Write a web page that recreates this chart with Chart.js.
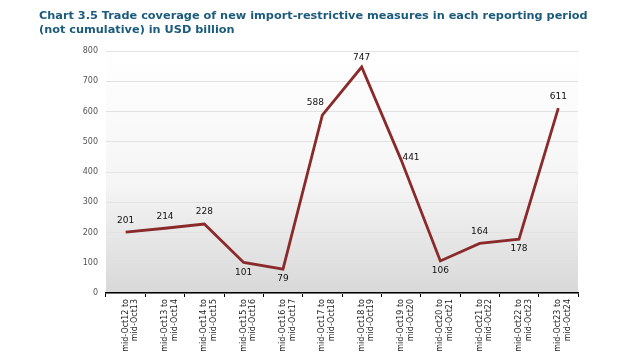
<!DOCTYPE html>
<html>
<head>
<meta charset="utf-8">
<script src="https://cdn.jsdelivr.net/npm/chart.js@4/dist/chart.umd.min.js"></script>
<style>
  html, body { margin: 0; padding: 0; background: #fff; }
  #wrap { width: 640px; height: 360px; position: relative; }
  #title {
    position: absolute; left: 39px; top: 9px;
    font: bold 11.3px/14px "DejaVu Sans", sans-serif;
    color: #1b5b7c; white-space: nowrap;
  }
  canvas { position: absolute; left: 0; top: 0; }
</style>
</head>
<body>
<div id="wrap">
  <canvas id="chart" width="640" height="360"></canvas>
  <div id="title"></div>
</div>
<script>
// Reporting periods (two-line labels)
const periods = [
  ["mid-Oct12 to", "mid-Oct13"],
  ["mid-Oct13 to", "mid-Oct14"],
  ["mid-Oct14 to", "mid-Oct15"],
  ["mid-Oct15 to", "mid-Oct16"],
  ["mid-Oct16 to", "mid-Oct17"],
  ["mid-Oct17 to", "mid-Oct18"],
  ["mid-Oct18 to", "mid-Oct19"],
  ["mid-Oct19 to", "mid-Oct20"],
  ["mid-Oct20 to", "mid-Oct21"],
  ["mid-Oct21 to", "mid-Oct22"],
  ["mid-Oct22 to", "mid-Oct23"],
  ["mid-Oct23 to", "mid-Oct24"]
];

// Trade coverage, USD billion
const coverage = [201, 214, 228, 101, 79, 588, 747, 441, 106, 164, 178, 611];

// Where each value label sits relative to its point
const labelSide = ["above", "above", "above", "below", "below", "aboveLeft",
                   "top", "right", "below", "above", "below", "above"];

const yTicks = { min: 0, max: 800, step: 100 };

const titleLines = [
  "Chart 3.5 Trade coverage of new import-restrictive measures in each reporting period",
  "(not cumulative) in USD billion"
];

// Title as plain text (Chart.js would squeeze it to the chart width)
const titleEl = document.getElementById("title");
titleLines.forEach((line, i) => {
  if (i > 0) titleEl.appendChild(document.createElement("br"));
  titleEl.appendChild(document.createTextNode(line));
});

// Plot background: white fading to light grey at the bottom
const plotBackground = {
  id: "plotBackground",
  beforeDraw(chart) {
    const { ctx, chartArea: a } = chart;
    const g = ctx.createLinearGradient(0, a.top, 0, a.bottom);
    g.addColorStop(0, "#ffffff");
    g.addColorStop(0.55, "#f5f5f5");
    g.addColorStop(1, "#d8d8d8");
    ctx.save();
    ctx.fillStyle = g;
    ctx.fillRect(a.left, a.top, a.right - a.left, a.bottom - a.top);
    ctx.restore();
  }
};

// Value labels next to each point
const valueLabels = {
  id: "valueLabels",
  afterDatasetsDraw(chart) {
    const { ctx } = chart;
    const meta = chart.getDatasetMeta(0);
    ctx.save();
    ctx.font = "9px 'DejaVu Sans'";
    ctx.fillStyle = "#111";
    ctx.textAlign = "center";
    ctx.textBaseline = "middle";
    meta.data.forEach((pt, i) => {
      const v = chart.data.datasets[0].data[i];
      let x = pt.x, y = pt.y;
      switch (labelSide[i]) {
        case "above": y -= 12; break;
        case "top": y -= 9; break;
        case "below": y += 10; break;
        case "aboveLeft": x -= 7; y -= 12; break;
        case "right": x += 10; y -= 2; break;
      }
      ctx.fillText(String(v), x, y);
    });
    ctx.restore();
  }
};

new Chart(document.getElementById("chart"), {
  type: "line",
  data: {
    labels: periods,
    datasets: [{
      data: coverage,
      borderColor: "#8b2a2a",
      borderWidth: 2.8,
      pointRadius: 0,
      tension: 0,
      fill: false
    }]
  },
  options: {
    responsive: false,
    animation: false,
    layout: { padding: { left: 39, right: 62, top: 51, bottom: 0 } },
    plugins: {
      legend: { display: false },
      tooltip: { enabled: false },
      title: { display: false }
    },
    scales: {
      x: {
        offset: true,
        grid: {
          display: true,
          offset: true,
          drawOnChartArea: false,
          drawTicks: true,
          tickLength: 4,
          color: "#000"
        },
        border: { display: true, color: "#000", width: 1.5 },
        ticks: {
          autoSkip: false,
          minRotation: 90,
          maxRotation: 90,
          color: "#222",
          font: { family: "'DejaVu Sans'", size: 8 },
          padding: 2
        },
        afterFit(scale) { scale.height = 67; }
      },
      y: {
        min: yTicks.min,
        max: yTicks.max,
        grid: { color: "#e2e2e2", drawTicks: false },
        border: { display: false },
        ticks: {
          stepSize: yTicks.step,
          color: "#555",
          font: { family: "'DejaVu Sans'", size: 8 },
          padding: 8
        },
        afterFit(scale) { scale.width = 67; }
      }
    }
  },
  plugins: [plotBackground, valueLabels]
});
</script>
</body>
</html>
